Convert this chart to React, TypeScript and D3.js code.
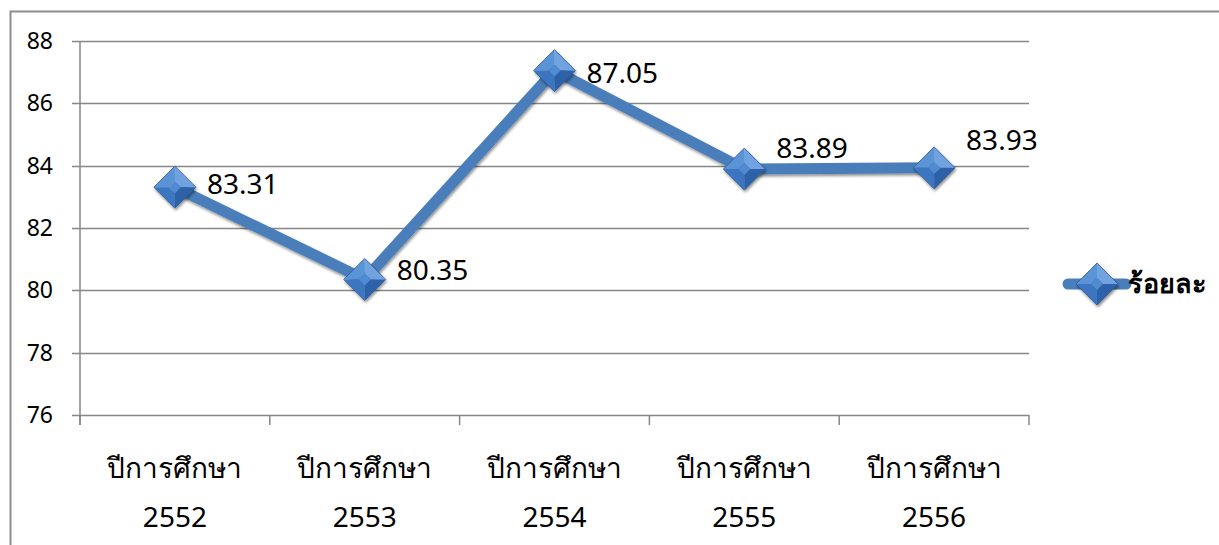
import React, { useEffect, useRef } from 'react';
import * as d3 from 'd3';

// chart data
const years = ['2552', '2553', '2554', '2555', '2556'];
const categoryPrefix = 'ปีการศึกษา';
const percentValues = [83.31, 80.35, 87.05, 83.89, 83.93];
const yTicks = [76, 78, 80, 82, 84, 86, 88];
const seriesName = 'ร้อยละ';
// small nudges so labels sit like the original
const labelNudgeY = [-3, -9, 3, -21, -28];

const FONT = "Tahoma, 'Noto Sans', 'DejaVu Sans', sans-serif";

const App = () => {
  const svgRef = useRef<SVGSVGElement>(null);

  useEffect(() => {
    const width = 1219;
    const height = 545;
    const margin = { top: 41, right: 190, bottom: 130, left: 80 };

    const svg = d3.select(svgRef.current)
      .attr('width', width)
      .attr('height', height);
    svg.selectAll('*').remove();

    const defs = svg.append('defs');
    const shadow = defs.append('filter').attr('id', 'shadow')
      .attr('x', '-50%').attr('y', '-50%').attr('width', '200%').attr('height', '200%');
    shadow.append('feGaussianBlur').attr('in', 'SourceAlpha').attr('stdDeviation', 1.8);
    shadow.append('feOffset').attr('dx', 1).attr('dy', 2).attr('result', 'blur');
    shadow.append('feComponentTransfer').append('feFuncA').attr('type', 'linear').attr('slope', 0.45);
    const merge = shadow.append('feMerge');
    merge.append('feMergeNode');
    merge.append('feMergeNode').attr('in', 'SourceGraphic');

    // outer chart border
    svg.append('rect')
      .attr('x', 10.5).attr('y', 11.5)
      .attr('width', width).attr('height', height)
      .attr('fill', 'none').attr('stroke', '#8c8c8c').attr('stroke-width', 2);

    const x = d3.scaleBand()
      .domain(years)
      .range([margin.left, width - margin.right]);

    const y = d3.scaleLinear()
      .domain([76, 88])
      .range([height - margin.bottom, margin.top]);

    const grid = '#868686';

    // horizontal grid lines + y tick marks
    svg.append('g')
      .selectAll('line')
      .data(yTicks)
      .enter().append('line')
      .attr('x1', margin.left - 8)
      .attr('x2', width - margin.right)
      .attr('y1', d => Math.round(y(d)) + 0.5)
      .attr('y2', d => Math.round(y(d)) + 0.5)
      .attr('stroke', grid)
      .attr('stroke-width', 1.5);

    // y axis line
    svg.append('line')
      .attr('x1', margin.left).attr('x2', margin.left)
      .attr('y1', margin.top).attr('y2', height - margin.bottom + 10)
      .attr('stroke', grid).attr('stroke-width', 1.5);

    // x tick marks at band edges
    const edges = years.map(d => x(d)!).concat([width - margin.right]);
    svg.append('g')
      .selectAll('line')
      .data(edges)
      .enter().append('line')
      .attr('x1', d => d).attr('x2', d => d)
      .attr('y1', height - margin.bottom)
      .attr('y2', height - margin.bottom + 10)
      .attr('stroke', grid).attr('stroke-width', 1.5);

    // y tick labels
    svg.append('g')
      .selectAll('text')
      .data(yTicks)
      .enter().append('text')
      .attr('x', margin.left - 27)
      .attr('y', d => y(d))
      .attr('dy', '0.35em')
      .attr('text-anchor', 'end')
      .style('font-family', FONT)
      .style('font-size', '23px')
      .attr('fill', '#000')
      .text(d => d);

    // category labels (two lines)
    const cat = svg.append('g')
      .selectAll('text')
      .data(years)
      .enter().append('text')
      .attr('text-anchor', 'middle')
      .style('font-family', FONT)
      .style('font-size', '28px')
      .attr('fill', '#000');
    cat.append('tspan')
      .attr('x', d => x(d)! + x.bandwidth() / 2)
      .attr('y', 478)
      .text(categoryPrefix);
    cat.append('tspan')
      .attr('x', d => x(d)! + x.bandwidth() / 2)
      .attr('y', 527)
      .text(d => d);

    const blue = '#4a7ebb';
    const pts = percentValues.map((v, i) => [x(years[i])! + x.bandwidth() / 2, y(v)] as [number, number]);

    svg.append('path')
      .datum(pts)
      .attr('d', d3.line())
      .attr('fill', 'none')
      .attr('stroke', blue)
      .attr('stroke-width', 11)
      .attr('stroke-linejoin', 'round')
      .attr('filter', 'url(#shadow)');

    const drawMarker = (g: any, cx: number, cy: number) => {
      const r = 21;
      const m = g.append('g').attr('transform', `translate(${cx},${cy})`).attr('filter', 'url(#shadow)');
      const c = 6;
      const facets: [string, string][] = [
        [`M0,${-r} L${r},0 L${c},0 L0,${-c} Z`, '#6fa3e0'],
        [`M0,${-r} L${-r},0 L${-c},0 L0,${-c} Z`, '#5a93d6'],
        [`M${-r},0 L0,${r} L0,${c} L${-c},0 Z`, '#3e76c0'],
        [`M${r},0 L0,${r} L0,${c} L${c},0 Z`, '#2f62a8'],
        [`M0,${-c} L${c},0 L0,${c} L${-c},0 Z`, '#4f8ad2'],
      ];
      facets.forEach(([d, f]) => m.append('path').attr('d', d).attr('fill', f));
      m.append('path')
        .attr('d', `M0,${-r} L${r},0 L0,${r} L${-r},0 Z`)
        .attr('fill', 'none').attr('stroke', '#2c5a96').attr('stroke-width', 0.8);
    };

    pts.forEach(([px, py]) => drawMarker(svg, px, py));

    // data labels
    svg.append('g')
      .selectAll('text')
      .data(percentValues)
      .enter().append('text')
      .attr('x', (d, i) => pts[i][0] + 32)
      .attr('y', (d, i) => pts[i][1] + labelNudgeY[i])
      .attr('dy', '0.35em')
      .style('font-family', FONT)
      .style('font-size', '28px')
      .attr('fill', '#000')
      .text(d => d.toFixed(2));

    // legend
    const ly = 284;
    svg.append('line')
      .attr('x1', 1068).attr('x2', 1126)
      .attr('y1', ly).attr('y2', ly)
      .attr('stroke', blue).attr('stroke-width', 11)
      .attr('stroke-linecap', 'round');
    drawMarker(svg, 1097, ly);
    svg.append('text')
      .attr('x', 1128).attr('y', ly)
      .attr('dy', '0.35em')
      .style('font-family', FONT)
      .style('font-size', '27px')
      .style('font-weight', 'bold')
      .attr('fill', '#000')
      .text(seriesName);
  }, []);

  return (
    <div style={{ position: 'fixed', left: 0, top: 0, background: '#fff' }}>
      <svg ref={svgRef} style={{ display: 'block' }}></svg>
    </div>
  );
};

export default App;
